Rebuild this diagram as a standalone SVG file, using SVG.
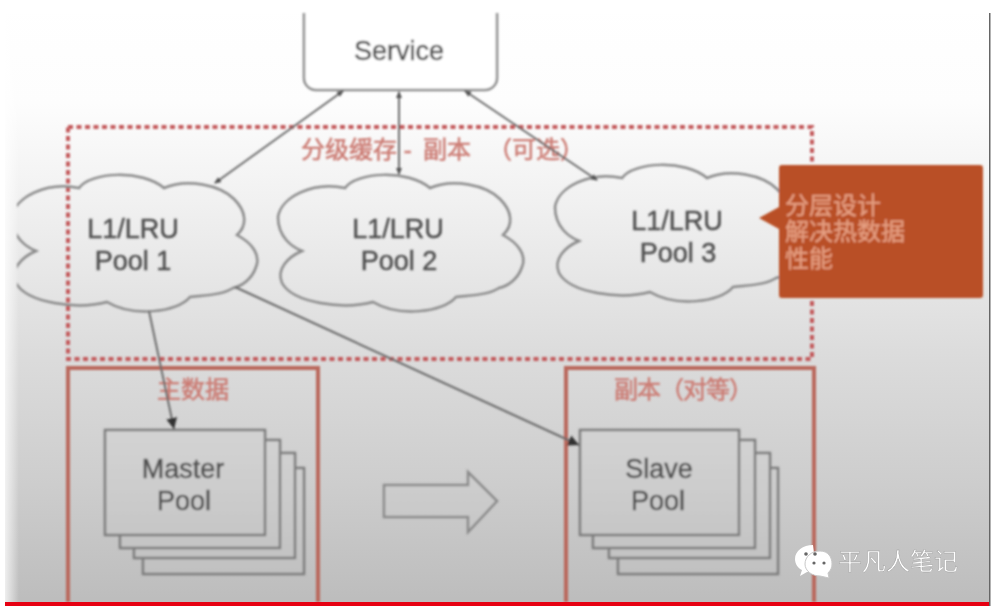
<svg xmlns="http://www.w3.org/2000/svg" width="1000" height="606" viewBox="0 0 1000 606">
<style>
text{font-family:"Liberation Sans","Noto Sans CJK SC",sans-serif;text-anchor:middle}
.lbl{font-size:27px;fill:#505050;stroke:#505050;stroke-width:.5}
.red{font-size:24px;fill:#cb7a72;stroke:#cb7a72;stroke-width:.5;text-anchor:start}
.cloud{fill:none;stroke:#8a8a8a;stroke-width:2.5}
.card{fill:url(#bg);stroke:#7c7c7c;stroke-width:2.5}
.box{fill:none;stroke:#b9685c;stroke-width:4}
.conn{fill:none;stroke:#6a6a6a;stroke-width:2}
.note{font-size:24px;fill:#e59f82;stroke:#e59f82;stroke-width:.4;text-anchor:start}
</style>
<defs>
<linearGradient id="bg" gradientUnits="userSpaceOnUse" x1="0" y1="0" x2="0" y2="606">
<stop offset="0" stop-color="#fff"/><stop offset=".17" stop-color="#fdfdfd"/><stop offset=".33" stop-color="#f1f1f1"/><stop offset=".58" stop-color="#dcdcdc"/><stop offset=".8" stop-color="#cdcdcd"/><stop offset="1" stop-color="#bcbcbc"/>
</linearGradient>
<linearGradient id="edge" x1="0" y1="0" x2="1" y2="0">
<stop offset="0" stop-color="#fff" stop-opacity=".75"/><stop offset="1" stop-color="#fff" stop-opacity="0"/>
</linearGradient>
<filter id="blur" x="-2%" y="-2%" width="104%" height="104%"><feGaussianBlur stdDeviation="0.9"/></filter>
<clipPath id="c1"><rect x="17" y="150" width="300" height="180"/></clipPath>
<clipPath id="top"><rect x="0" y="13" width="1000" height="593"/></clipPath>
<clipPath id="bot"><rect x="0" y="13" width="1000" height="589"/></clipPath>
<marker id="ah" markerWidth="7" markerHeight="7" refX="6" refY="3.5" orient="auto-start-reverse" markerUnits="userSpaceOnUse" viewBox="0 0 7 7"><path d="M0 0.5L7 3.5L0 6.5Z" fill="#505050"/></marker>
<marker id="ab" markerWidth="11" markerHeight="11" refX="10" refY="5" orient="auto" markerUnits="userSpaceOnUse" viewBox="0 0 10 10"><path d="M0 0L10 5L0 10Z" fill="#333"/></marker>
<path id="cl" d="M24 76C14 72 0 62 0 42C3 22 35 6 67 13C78 -3 130 -6 152 13C175 3 208 10 222 24C234 36 236 50 225 60C240 68 249 80 244 92C240 104 230 111 221 113C210 120 195 120 178 122C165 138 120 142 95 127C65 135 15 128 4 108C-2 94 10 82 24 76Z"/>
</defs>
<rect width="1000" height="606" fill="#fff"/>
<rect x="5" y="13" width="984" height="593" fill="url(#bg)"/>
<rect x="5" y="13" width="14" height="593" fill="url(#edge)"/>
<rect x="989" y="13" width="1.5" height="593" fill="#666"/>
<g filter="url(#blur)">
<g id="group-tiered-cache">
<rect x="68" y="127" width="744" height="232" fill="none" stroke="#c2585a" stroke-width="4" stroke-dasharray="5 3.5"/>
<text class="red" x="301" y="158">分级缓存 - <tspan x="423">副本</tspan> <tspan x="488">（可选）</tspan></text>
</g>
<g id="group-master" clip-path="url(#bot)">
<rect class="box" x="68" y="368" width="250" height="260"/>
<text class="red" x="157" y="398">主数据</text>
</g>
<g id="group-replica" clip-path="url(#bot)">
<rect class="box" x="566" y="368" width="248" height="260"/>
<text class="red" x="614" y="398" style="letter-spacing:-1px">副本（对等）</text>
</g>
<g id="service" clip-path="url(#top)">
<rect x="304" y="-10" width="193" height="100" rx="12" fill="#fff" stroke="#8a8a8a" stroke-width="2.5"/>
<text class="lbl" x="399" y="60">Service</text>
</g>
<g id="pool-1" clip-path="url(#c1)">
<use href="#cl" class="cloud" x="12" y="175"/>
<text class="lbl" x="133" y="238">L1/LRU</text>
<text class="lbl" x="133" y="270">Pool 1</text>
</g>
<g id="pool-2">
<use href="#cl" class="cloud" x="278" y="175"/>
<text class="lbl" x="398" y="238">L1/LRU</text>
<text class="lbl" x="399" y="270">Pool 2</text>
</g>
<g id="pool-3">
<use href="#cl" class="cloud" x="555" y="165"/>
<text class="lbl" x="677" y="230">L1/LRU</text>
<text class="lbl" x="678" y="262">Pool 3</text>
</g>
<g id="master-pool">
<rect class="card" x="143" y="468" width="161" height="106"/>
<rect class="card" x="134" y="453" width="161" height="105"/>
<rect class="card" x="120" y="440" width="160" height="108"/>
<rect class="card" x="105" y="430" width="160" height="105"/>
<text class="lbl" x="183" y="478">Master</text>
<text class="lbl" x="184" y="510">Pool</text>
</g>
<g id="slave-pool">
<rect class="card" x="618" y="468" width="160" height="106"/>
<rect class="card" x="609" y="453" width="161" height="105"/>
<rect class="card" x="593" y="440" width="162" height="108"/>
<rect class="card" x="580" y="430" width="159" height="105"/>
<text class="lbl" x="659" y="478">Slave</text>
<text class="lbl" x="658" y="510">Pool</text>
</g>
<g id="replicate-arrow">
<path d="M384 485H468V472L497 501L468 532V517H384Z" fill="url(#bg)" stroke="#8a8a8a" stroke-width="2.5"/>
</g>
<g id="connectors">
<path class="conn" d="M343 91L215 183" marker-start="url(#ah)" marker-end="url(#ah)"/>
<path class="conn" d="M399 92V174" marker-start="url(#ah)" marker-end="url(#ah)"/>
<path class="conn" d="M465 91L597 180" marker-start="url(#ah)" marker-end="url(#ah)"/>
<path class="conn" d="M149 311L174 429" marker-end="url(#ab)"/>
<path class="conn" d="M235 287L579 445" marker-end="url(#ab)"/>
</g>
<g id="note">
<path d="M782 165H980Q983 165 983 168V295Q983 298 980 298H782Q779 298 779 295V229L759 218L779 207V168Q779 165 782 165Z" fill="#b94f26"/>
<text class="note" x="785" y="214">分层设计</text>
<text class="note" x="785" y="240">解决热数据</text>
<text class="note" x="785" y="267">性能</text>
</g>
</g>
<rect x="5" y="602" width="984" height="4" fill="#e60012"/>
<g id="watermark">
<path d="M813 545C803 545 795 551 795 559C795 564 798 568 802 570L800 576L807 572L816 570Z" fill="#fff"/>
<path d="M820 551C811 551 805 557 805 564C805 571 812 576 820 576L829 578L828 573C831 570 832 567 832 564C832 557 828 551 820 551Z" fill="#fff" stroke="#c8c8c8"/>
<circle cx="806" cy="554" r="1.8" fill="#666"/><circle cx="815" cy="554" r="1.8" fill="#666"/>
<circle cx="814" cy="563" r="1.6" fill="#666"/><circle cx="824" cy="563" r="1.6" fill="#666"/>
<text x="898" y="570" style="font-size:24px;fill:#fff;stroke:#999;stroke-width:.4">平凡人笔记</text>
</g>
</svg>
